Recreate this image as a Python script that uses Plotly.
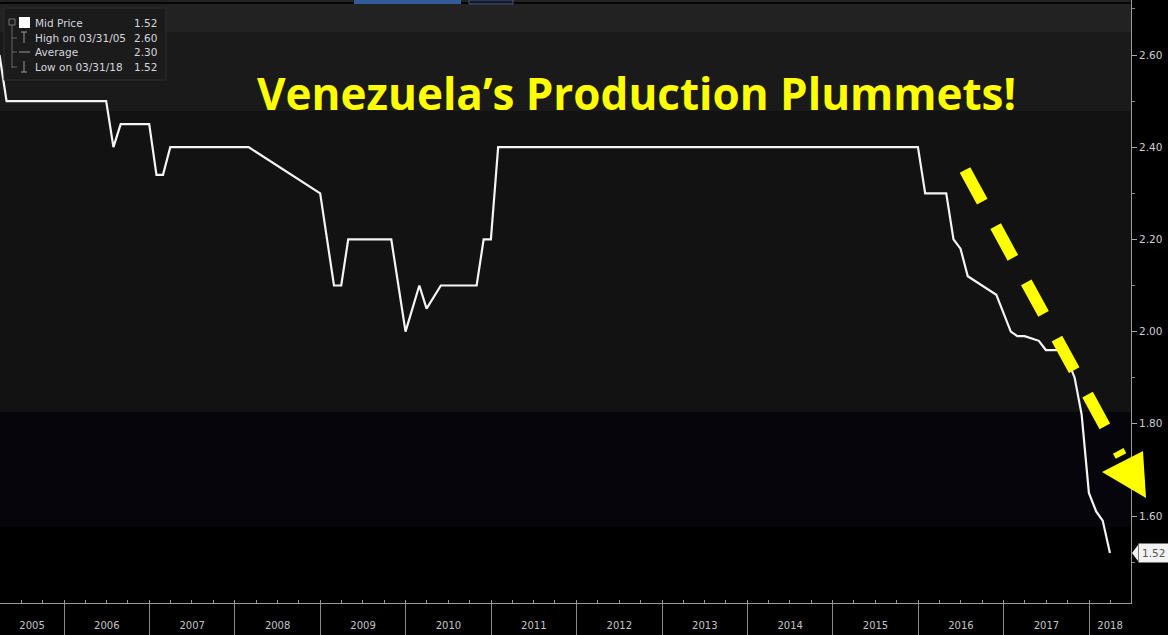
import plotly.graph_objects as go
import pandas as pd

# ---------------- data ----------------
dates = [
    "2005-03-31", "2005-04-30", "2006-06-30", "2006-07-31", "2006-08-31",
    "2006-12-31", "2007-01-31", "2007-02-28", "2007-03-31", "2008-02-29",
    "2008-12-31", "2009-02-28", "2009-03-31", "2009-04-30", "2009-10-31",
    "2009-12-31", "2010-02-28", "2010-03-31", "2010-05-31", "2010-10-31",
    "2010-11-30", "2010-12-31", "2011-01-31", "2015-12-31", "2016-01-31",
    "2016-04-30", "2016-05-31", "2016-06-30", "2016-07-31", "2016-11-30",
    "2017-01-31", "2017-02-28", "2017-03-31", "2017-05-31", "2017-06-30",
    "2017-08-31", "2017-09-30", "2017-10-31", "2017-11-30", "2017-12-31",
    "2018-01-31", "2018-02-28", "2018-03-31",
]
values = [
    2.60, 2.50, 2.50, 2.40, 2.45,
    2.45, 2.34, 2.34, 2.40, 2.40,
    2.30, 2.10, 2.10, 2.20, 2.20,
    2.00, 2.10, 2.05, 2.10, 2.10,
    2.20, 2.20, 2.40, 2.40, 2.30,
    2.30, 2.20, 2.18, 2.12, 2.08,
    2.00, 1.99, 1.99, 1.98, 1.96,
    1.96, 1.94, 1.90, 1.82, 1.65,
    1.61, 1.59, 1.52,
]
legend_labels = ["Mid Price", "High on 03/31/05", "Average", "Low on 03/31/18"]
legend_values = ["1.52", "2.60", "2.30", "1.52"]
title_text = "Venezuela\u2019s Production Plummets!"
years = list(range(2005, 2019))
x_range = ["2005-04-02", "2018-06-29"]
y_range = [1.4113, 2.7193]

# ---------------- layout helpers ----------------
W, H = 1168, 635
L, R, T, B = 0, 37, 0, 32
PW, PH = W - L - R, H - T - B


def px(x):
    return (x - L) / PW


def py(y):
    return 1 - (y - T) / PH


# year label positions: centre of the visible part of each year
r0, r1 = pd.Timestamp(x_range[0]), pd.Timestamp(x_range[1])
label_pos = []
for yr in years:
    s = max(pd.Timestamp(f"{yr}-01-01"), r0)
    e = min(pd.Timestamp(f"{yr + 1}-01-01"), r1)
    label_pos.append((s + (e - s) / 2).strftime("%Y-%m-%d %H:%M"))

fig = go.Figure()
fig.add_trace(go.Scatter(
    x=dates, y=values, mode="lines",
    line=dict(color="#f4f4f4", width=2.2),
    showlegend=False, name="Mid Price",
))
# same series on the overlaid label axis (fully transparent) so that axis is drawn
fig.add_trace(go.Scatter(
    x=dates, y=values, mode="lines", xaxis="x2",
    line=dict(color="rgba(0,0,0,0)", width=0),
    showlegend=False, hoverinfo="skip",
))

shapes = []
# background bands
bands = [(0, 32, "#222222"), (32, 111, "#1a1a1a"), (111, 412, "#121212"),
         (412, 527, "#05050b"), (527, 603, "#000000")]
for y0, y1, c in bands:
    shapes.append(dict(type="rect", xref="paper", yref="paper", x0=0, x1=1,
                       y0=py(y1), y1=py(y0), fillcolor=c, line_width=0, layer="below"))
# top toolbar remnants
shapes.append(dict(type="line", xref="paper", yref="paper", x0=0, x1=1,
                   y0=py(3), y1=py(3), line=dict(color="#050505", width=2)))
shapes.append(dict(type="rect", xref="paper", yref="paper", x0=px(354), x1=px(461),
                   y0=py(4), y1=py(0), fillcolor="#2f5d96", line_width=0))
shapes.append(dict(type="rect", xref="paper", yref="paper", x0=px(469), x1=px(513),
                   y0=py(4), y1=py(0), fillcolor="#151a33",
                   line=dict(color="#4a5070", width=1)))

# legend box
shapes.append(dict(type="rect", xref="paper", yref="paper", x0=px(4), x1=px(166),
                   y0=py(80), y1=py(8), fillcolor="#1b1b1b",
                   line=dict(color="#2c2c2c", width=1)))
# tree lines in the legend
shapes.append(dict(type="rect", xref="paper", yref="paper", x0=px(9), x1=px(15),
                   y0=py(25), y1=py(19), line=dict(color="#777", width=1)))
shapes.append(dict(type="line", xref="paper", yref="paper", x0=px(12), x1=px(12),
                   y0=py(68), y1=py(25), line=dict(color="#666", width=1)))
for ry in (38, 52, 67):
    shapes.append(dict(type="line", xref="paper", yref="paper", x0=px(12), x1=px(17),
                       y0=py(ry), y1=py(ry), line=dict(color="#666", width=1)))
# legend glyphs
shapes.append(dict(type="rect", xref="paper", yref="paper", x0=px(19), x1=px(30),
                   y0=py(28), y1=py(17), fillcolor="#ffffff", line_width=0))
shapes.append(dict(type="line", xref="paper", yref="paper", x0=px(21), x1=px(27),
                   y0=py(32), y1=py(32), line=dict(color="#999", width=1)))
shapes.append(dict(type="line", xref="paper", yref="paper", x0=px(24), x1=px(24),
                   y0=py(43), y1=py(32), line=dict(color="#999", width=1)))
shapes.append(dict(type="line", xref="paper", yref="paper", x0=px(19), x1=px(30),
                   y0=py(52), y1=py(52), line=dict(color="#999", width=1)))
shapes.append(dict(type="line", xref="paper", yref="paper", x0=px(24), x1=px(24),
                   y0=py(72), y1=py(61), line=dict(color="#999", width=1)))
shapes.append(dict(type="line", xref="paper", yref="paper", x0=px(21), x1=px(27),
                   y0=py(72), y1=py(72), line=dict(color="#999", width=1)))

# yellow dashed arrow
shapes.append(dict(type="line", xref="paper", yref="paper",
                   x0=px(965), y0=py(170), x1=px(1121), y1=py(456),
                   line=dict(color="#ffff00", width=12, dash="36px,28px")))
shapes.append(dict(type="path", xref="paper", yref="paper",
                   path=f"M {px(1102)},{py(472)} L {px(1143)},{py(451)} L {px(1146)},{py(498)} Z",
                   fillcolor="#ffff00", line_width=0))
# pointer of the last-value tag
shapes.append(dict(type="path", xref="paper", yref="paper",
                   path=f"M {px(1132)},{py(553)} L {px(1138)},{py(545)} L {px(1138)},{py(561)} Z",
                   fillcolor="#f2f2f2", line_width=0))

annotations = []
annotations.append(dict(xref="paper", yref="paper", x=px(636), y=py(93),
                        text=f"<b>{title_text}</b>", showarrow=False,
                        xanchor="center", yanchor="middle",
                        font=dict(family="Open Sans", size=44, color="#ffff00")))
row_y = [23, 38, 52, 67]
for lab, val, ry in zip(legend_labels, legend_values, row_y):
    annotations.append(dict(xref="paper", yref="paper", x=px(33), y=py(ry), text=lab,
                            showarrow=False, xanchor="left", yanchor="middle",
                            font=dict(family="DejaVu Sans", size=10.5, color="#d6d6de")))
    annotations.append(dict(xref="paper", yref="paper", x=px(159), y=py(ry), text=val,
                            showarrow=False, xanchor="right", yanchor="middle",
                            font=dict(family="DejaVu Sans", size=10.5, color="#d6d6de")))
annotations.append(dict(xref="paper", yref="y", x=1, y=values[-1], xshift=7,
                        text=f"{values[-1]:.2f}", showarrow=False, xanchor="left",
                        yanchor="middle", bgcolor="#f2f2f2", borderpad=3,
                        font=dict(family="DejaVu Sans", size=10.5, color="#555")))

fig.update_layout(
    width=W, height=H,
    margin=dict(l=L, r=R, t=T, b=B, pad=0, autoexpand=False),
    paper_bgcolor="#000000", plot_bgcolor="#000000",
    showlegend=False,
    shapes=shapes, annotations=annotations,
    xaxis=dict(
        type="date", range=x_range, tickmode="linear", tick0="2005-01-01", dtick="M12",
        ticks="outside", ticklen=32, tickcolor="#8a8a8a", tickwidth=1,
        showticklabels=False, showline=True, linecolor="#9a9a9a", linewidth=1,
        showgrid=False, zeroline=False, automargin=False,
        minor=dict(tick0="2005-01-01", dtick="M3", ticks="inside", ticklen=3,
                   tickcolor="#9a9a9a", showgrid=False),
    ),
    xaxis2=dict(
        type="date", range=x_range, overlaying="x", anchor="y", side="bottom",
        tickmode="array", tickvals=label_pos, ticktext=[str(y) for y in years],
        ticks="outside", ticklen=13, tickcolor="rgba(0,0,0,0)",
        tickfont=dict(family="DejaVu Sans", size=10, color="#c4c4c4"),
        showline=False, showgrid=False, zeroline=False, automargin=False,
    ),
    yaxis=dict(
        side="right", range=y_range, tickmode="linear", tick0=1.6, dtick=0.2,
        tickformat=".2f", ticks="outside", ticklen=5, tickcolor="#aaaaaa",
        tickfont=dict(family="DejaVu Sans", size=10.5, color="#cfcfcf"),
        showline=True, linecolor="#9a9a9a", linewidth=1,
        showgrid=False, zeroline=False, automargin=False,
        minor=dict(tick0=1.5, dtick=0.1, ticks="outside", ticklen=3,
                   tickcolor="#888888", showgrid=False),
    ),
)

fig.write_html("out.html", config={"displayModeBar": False},
               post_script="document.body.style.margin='0px';")
